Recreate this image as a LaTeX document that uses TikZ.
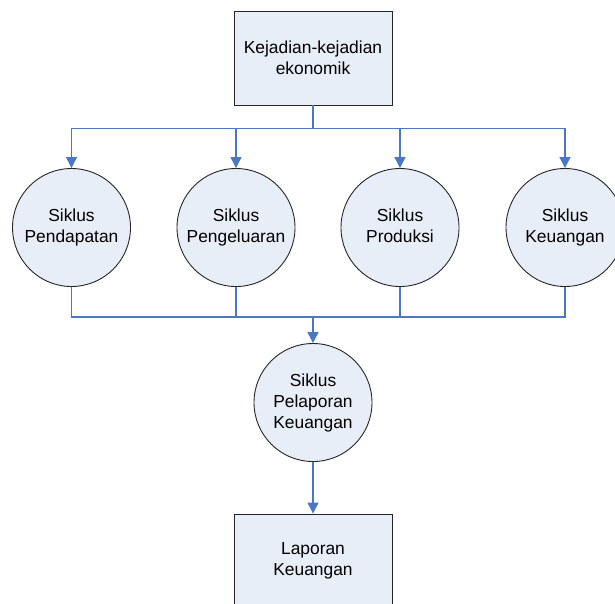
\documentclass[tikz,border=0pt]{standalone}
\usepackage{fontspec}
\setmainfont{Liberation Sans}
\usetikzlibrary{arrows.meta}
\definecolor{isi}{HTML}{E8EEF7}
\definecolor{garis}{HTML}{4A78C6}
\begin{document}
\begin{tikzpicture}[x=1pt,y=1pt,
	kotak/.style={draw=black!85,fill=isi,line width=0.9pt,minimum width=158pt,minimum height=94pt,align=center,inner sep=0pt,font=\fontsize{17.4}{20.5}\selectfont},
	siklus/.style={draw=black!85,fill=isi,line width=0.9pt,circle,minimum size=118pt,align=center,inner sep=0pt,font=\fontsize{17.4}{21}\selectfont},
	hubung/.style={draw=garis,line width=1.1pt},
	panah/.style={hubung,-{Triangle[width=11pt,length=11pt]}}]
		\useasboundingbox (0,0) rectangle (615,-603);
		\clip (0,0) rectangle (615,-603);
		\node[kotak] (kejadian) at (313,-58) {Kejadian-kejadian\\ekonomik};
		
		\node[siklus] (pendapatan) at (71.5,-227.5) {Siklus\\Pendapatan};
		\node[siklus] (pengeluaran) at (236,-227.5) {Siklus\\Pengeluaran};
		\node[siklus] (produksi) at (400,-227.5) {Siklus\\Produksi\vphantom{g}};
		\node[siklus] (keuangan) at (565,-227.5) {Siklus\\Keuangan};
		
		\node[siklus] (pelaporan) at (313,-402.5) {Siklus\\Pelaporan\\Keuangan};
		\node[kotak] (laporan) at (313,-561) {Laporan\\Keuangan};
		
		\coordinate (atas) at (313,-128.5);
		\coordinate (bawah) at (313,-317);
		
		% dari kejadian ke siklus
		\draw[hubung] (kejadian) -- (atas);
		\draw[panah] (atas) -| (pendapatan);
		\draw[panah] (atas) -| (pengeluaran);
		\draw[panah] (atas) -| (produksi);
		\draw[panah] (atas) -| (keuangan);
		
		% dari siklus ke pelaporan
		\draw[hubung] (pendapatan) |- (bawah);
		\draw[hubung] (pengeluaran) |- (bawah);
		\draw[hubung] (produksi) |- (bawah);
		\draw[hubung] (keuangan) |- (bawah);
		\draw[panah] (bawah) -- (pelaporan);
		\draw[panah] (pelaporan) -- (laporan);
		\end{tikzpicture}
\end{document}
